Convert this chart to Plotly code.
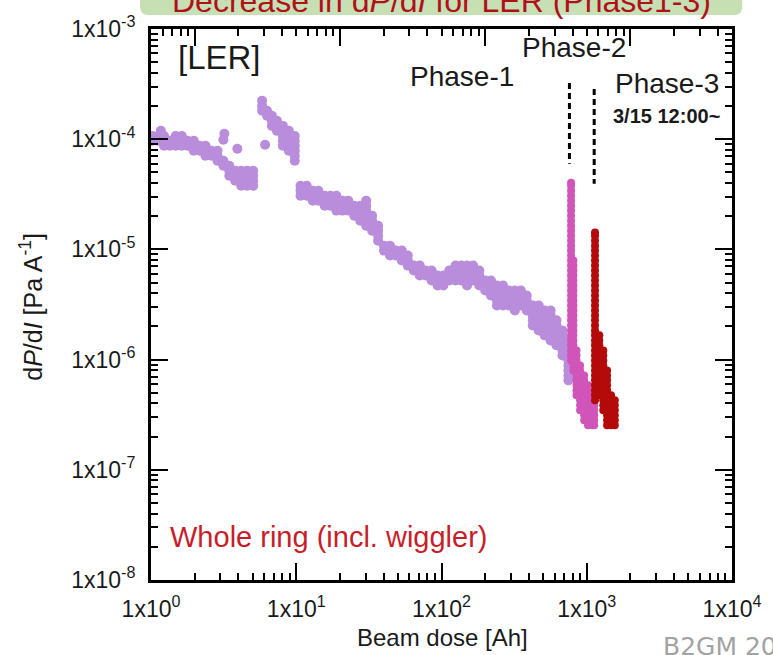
import plotly.graph_objects as go

# ---------------- data ----------------
# Phase-1: beam dose [Ah] per column, and the dP/dI values [Pa/A] measured at that dose
phase1_dose = [1.02, 1.12, 1.23, 1.35, 1.48, 1.63, 1.79, 1.97, 2.16, 2.37, 2.61, 2.87,
               3.15, 3.46, 3.80, 4.18, 4.59, 5.05,
               5.82, 6.29, 6.80, 7.36, 8.09, 8.89, 9.77,
               10.7, 11.8, 13.0, 14.2, 15.7, 17.2, 18.9, 20.8, 22.8, 25.1, 27.6, 30.3,
               33.3, 36.6, 40.2, 44.2, 48.5, 53.3, 58.6, 64.4, 70.8, 77.8, 85.5, 93.9,
               103, 113, 125, 137, 150, 165, 182, 200, 219, 241, 265, 291, 320, 352,
               386, 425, 467, 513, 564, 619, 681, 748]
phase1_dpdi = [
    [1.07e-4, 9.67e-5],
    [1.07e-4, 9.67e-5],
    [1.07e-4, 9.67e-5, 8.71e-5],
    [9.67e-5, 8.71e-5],
    [1.07e-4, 9.67e-5, 8.71e-5],
    [1.07e-4, 9.67e-5, 8.71e-5],
    [9.67e-5, 8.71e-5],
    [9.67e-5, 8.71e-5, 7.85e-5],
    [8.71e-5, 7.85e-5],
    [8.71e-5, 7.85e-5, 7.07e-5],
    [7.85e-5, 7.07e-5],
    [7.85e-5, 7.07e-5, 6.37e-5],
    [6.37e-5, 5.74e-5],
    [5.74e-5, 5.17e-5, 4.66e-5],
    [5.17e-5, 4.66e-5, 4.20e-5],
    [5.17e-5, 4.66e-5, 4.20e-5, 3.78e-5],
    [5.17e-5, 4.66e-5, 4.20e-5, 3.78e-5],
    [5.17e-5, 4.66e-5, 4.20e-5, 3.78e-5],
    [2.23e-4, 2.01e-4, 1.81e-4],
    [1.81e-4, 1.63e-4],
    [1.63e-4, 1.47e-4, 1.32e-4],
    [1.47e-4, 1.32e-4, 1.19e-4],
    [1.32e-4, 1.19e-4, 1.07e-4, 9.67e-5, 8.71e-5],
    [1.19e-4, 1.07e-4, 9.67e-5, 8.71e-5, 7.85e-5],
    [1.07e-4, 9.67e-5, 8.71e-5, 7.85e-5, 7.07e-5, 6.37e-5],
    [3.78e-5, 3.41e-5, 3.07e-5],
    [3.78e-5, 3.41e-5, 3.07e-5],
    [3.41e-5, 3.07e-5, 2.77e-5],
    [3.41e-5, 3.07e-5, 2.77e-5],
    [3.07e-5, 2.77e-5, 2.49e-5],
    [3.07e-5, 2.77e-5, 2.49e-5],
    [3.07e-5, 2.77e-5, 2.49e-5, 2.25e-5],
    [2.77e-5, 2.49e-5, 2.25e-5],
    [2.77e-5, 2.49e-5, 2.25e-5],
    [2.49e-5, 2.25e-5, 2.02e-5],
    [2.49e-5, 2.25e-5, 2.02e-5, 1.82e-5],
    [2.77e-5, 2.49e-5, 2.25e-5, 2.02e-5, 1.82e-5, 1.64e-5],
    [2.02e-5, 1.82e-5, 1.64e-5, 1.48e-5],
    [1.64e-5, 1.48e-5, 1.33e-5, 1.20e-5],
    [1.08e-5, 9.75e-6],
    [1.08e-5, 9.75e-6, 8.79e-6],
    [9.75e-6, 8.79e-6],
    [9.75e-6, 8.79e-6, 7.92e-6],
    [8.79e-6, 7.92e-6, 7.13e-6],
    [7.13e-6, 6.43e-6],
    [7.13e-6, 6.43e-6, 5.79e-6],
    [6.43e-6, 5.79e-6],
    [6.43e-6, 5.79e-6, 5.22e-6],
    [5.79e-6, 5.22e-6, 4.70e-6],
    [5.79e-6, 5.22e-6, 4.70e-6],
    [6.43e-6, 5.79e-6, 5.22e-6],
    [7.13e-6, 6.43e-6, 5.79e-6, 5.22e-6],
    [7.13e-6, 6.43e-6, 5.79e-6, 5.22e-6],
    [7.13e-6, 6.43e-6, 5.79e-6, 5.22e-6, 4.70e-6],
    [7.13e-6, 6.43e-6, 5.79e-6, 5.22e-6],
    [6.43e-6, 5.79e-6, 5.22e-6, 4.70e-6],
    [5.22e-6, 4.70e-6, 4.23e-6],
    [5.22e-6, 4.70e-6, 4.23e-6, 3.82e-6],
    [4.70e-6, 4.23e-6, 3.82e-6, 3.44e-6, 3.10e-6],
    [4.70e-6, 4.23e-6, 3.82e-6, 3.44e-6, 3.10e-6],
    [4.23e-6, 3.82e-6, 3.44e-6, 3.10e-6],
    [4.23e-6, 3.82e-6, 3.44e-6, 3.10e-6, 2.79e-6],
    [4.23e-6, 3.82e-6, 3.44e-6, 3.10e-6],
    [3.82e-6, 3.44e-6, 3.10e-6, 2.79e-6],
    [3.10e-6, 2.79e-6, 2.51e-6, 2.27e-6, 2.04e-6],
    [3.10e-6, 2.79e-6, 2.51e-6, 2.27e-6, 2.04e-6, 1.84e-6],
    [2.79e-6, 2.51e-6, 2.27e-6, 2.04e-6, 1.84e-6, 1.66e-6],
    [2.79e-6, 2.51e-6, 2.27e-6, 2.04e-6, 1.84e-6, 1.66e-6, 1.49e-6],
    [2.27e-6, 2.04e-6, 1.84e-6, 1.66e-6, 1.49e-6, 1.35e-6],
    [1.84e-6, 1.66e-6, 1.49e-6, 1.35e-6, 1.21e-6, 1.09e-6],
    [1.49e-6, 1.35e-6, 1.21e-6, 1.09e-6, 9.83e-7, 8.86e-7, 7.98e-7, 7.19e-7, 6.48e-7],
]
# scattered single readings during Phase-1
phase1_stray_dose = [1.17, 3.20, 3.15, 3.93, 6.10]
phase1_stray_dpdi = [1.19e-4, 1.12e-4, 9.88e-5, 8.18e-5, 8.90e-5]

# Phase-2
phase2_dose = [780, 809, 850, 900, 960, 1020, 1090, 1125]
phase2_dpdi = [
    [4.03e-5, 3.78e-5, 3.41e-5, 3.07e-5, 2.77e-5, 2.49e-5, 2.25e-5, 2.02e-5, 1.82e-5,
     1.64e-5, 1.48e-5, 1.33e-5, 1.20e-5, 1.08e-5, 9.75e-6, 8.79e-6, 7.92e-6, 7.13e-6,
     6.43e-6, 5.79e-6, 5.22e-6, 4.70e-6, 4.23e-6, 3.82e-6, 3.44e-6, 3.10e-6, 2.79e-6,
     2.51e-6, 2.27e-6, 2.04e-6, 1.84e-6, 1.66e-6, 1.49e-6, 1.35e-6, 1.21e-6, 1.09e-6, 9.83e-7],
    [7.92e-6, 7.13e-6, 6.43e-6, 5.79e-6, 5.22e-6, 4.70e-6, 4.23e-6, 3.82e-6, 3.44e-6,
     3.10e-6, 2.79e-6, 2.51e-6, 2.27e-6, 2.04e-6, 1.84e-6, 1.66e-6, 1.49e-6, 1.35e-6,
     1.21e-6, 1.09e-6, 9.83e-7, 8.86e-7, 7.98e-7],
    [1.21e-6, 1.09e-6, 9.83e-7, 8.86e-7, 7.98e-7, 7.19e-7, 6.48e-7, 5.84e-7, 5.26e-7, 4.74e-7],
    [8.86e-7, 7.98e-7, 7.19e-7, 6.48e-7, 5.84e-7, 5.26e-7, 4.74e-7, 4.27e-7, 3.85e-7, 3.47e-7],
    [7.19e-7, 6.48e-7, 5.84e-7, 5.26e-7, 4.74e-7, 4.27e-7, 3.85e-7, 3.47e-7, 3.12e-7, 2.81e-7],
    [5.84e-7, 5.26e-7, 4.74e-7, 4.27e-7, 3.85e-7, 3.47e-7, 3.12e-7, 2.81e-7, 2.54e-7],
    [4.74e-7, 4.27e-7, 3.85e-7, 3.47e-7, 3.12e-7, 2.81e-7, 2.54e-7],
    [4.27e-7, 3.85e-7, 3.47e-7, 3.12e-7, 2.81e-7, 2.54e-7],
]

# Phase-3
phase3_dose = [1140, 1220, 1300, 1380, 1470, 1560]
phase3_dpdi = [
    [1.42e-5, 1.33e-5, 1.20e-5, 1.08e-5, 9.75e-6, 8.79e-6, 7.92e-6, 7.13e-6, 6.43e-6,
     5.79e-6, 5.22e-6, 4.70e-6, 4.23e-6, 3.82e-6, 3.44e-6, 3.10e-6, 2.79e-6, 2.51e-6,
     2.27e-6, 2.04e-6, 1.84e-6, 1.66e-6, 1.49e-6, 1.35e-6, 1.21e-6, 1.09e-6, 9.83e-7,
     8.86e-7, 7.98e-7, 7.19e-7, 6.48e-7, 5.84e-7, 5.26e-7, 4.74e-7, 4.27e-7],
    [1.66e-6, 1.49e-6, 1.35e-6, 1.21e-6, 1.09e-6, 9.83e-7, 8.86e-7, 7.98e-7, 7.19e-7,
     6.48e-7, 5.84e-7, 5.26e-7, 4.74e-7],
    [1.21e-6, 1.09e-6, 9.83e-7, 8.86e-7, 7.98e-7, 7.19e-7, 6.48e-7, 5.84e-7, 5.26e-7,
     4.74e-7, 4.27e-7, 3.85e-7, 3.47e-7],
    [7.98e-7, 7.19e-7, 6.48e-7, 5.84e-7, 5.26e-7, 4.74e-7, 4.27e-7, 3.85e-7, 3.47e-7,
     3.12e-7, 2.81e-7, 2.54e-7],
    [4.74e-7, 4.27e-7, 3.85e-7, 3.47e-7, 3.12e-7, 2.81e-7, 2.54e-7],
    [4.27e-7, 3.85e-7, 3.47e-7, 3.12e-7, 2.81e-7, 2.54e-7],
]

# phase boundaries (dashed markers)
boundary_dose = [760, 1125]
boundary_top = [3.24e-4, 2.86e-4]
boundary_bottom = [5.99e-5, 3.94e-5]

x_tickvals = [1, 10, 100, 1000, 10000]
x_ticktext = ["1x10<sup>0</sup>", "1x10<sup>1</sup>", "1x10<sup>2</sup>",
              "1x10<sup>3</sup>", "1x10<sup>4</sup>"]
y_tickvals = [1e-8, 1e-7, 1e-6, 1e-5, 1e-4, 1e-3]
y_ticktext = ["1x10<sup>-8</sup>", "1x10<sup>-7</sup>", "1x10<sup>-6</sup>",
              "1x10<sup>-5</sup>", "1x10<sup>-4</sup>", "1x10<sup>-3</sup>"]
# top axis carries its own decade ticks (scale shifted by a factor of 2)
x2_tickvals = [1, 10, 100, 1000]

PURPLE = "#b98ddb"
PINK = "#d155b9"
DARKRED = "#b40a0a"
FONT = "Liberation Sans, Arial, sans-serif"


def flatten(doses, rows):
    xs, ys = [], []
    for d, r in zip(doses, rows):
        xs += [d] * len(r)
        ys += r
    return xs, ys


def log_minors(first_exp, last_exp, lo=None, hi=None):
    vals = [m * 10.0 ** e for e in range(first_exp, last_exp + 1) for m in range(2, 10)]
    return [v for v in vals if (lo is None or v > lo) and (hi is None or v < hi)]


fig = go.Figure()

p1x, p1y = flatten(phase1_dose, phase1_dpdi)
fig.add_trace(go.Scatter(x=p1x + phase1_stray_dose, y=p1y + phase1_stray_dpdi,
                         mode="markers", marker=dict(color=PURPLE, size=10, line_width=0),
                         name="Phase-1"))
p2x, p2y = flatten(phase2_dose, phase2_dpdi)
fig.add_trace(go.Scatter(x=p2x, y=p2y, mode="markers",
                         marker=dict(color=PINK, size=8, line_width=0), name="Phase-2"))
p3x, p3y = flatten(phase3_dose, phase3_dpdi)
fig.add_trace(go.Scatter(x=p3x, y=p3y, mode="markers",
                         marker=dict(color=DARKRED, size=8, line_width=0), name="Phase-3"))

for d, top, bot in zip(boundary_dose, boundary_top, boundary_bottom):
    fig.add_trace(go.Scatter(x=[d, d], y=[top, bot], mode="lines",
                             line=dict(color="black", width=3, dash="6px,4px"),
                             hoverinfo="skip"))

# secondary top axis (ticks only)
fig.add_trace(go.Scatter(x=[1, 1000], y=[1e-3, 1e-3], xaxis="x2", yaxis="y",
                         mode="markers", marker=dict(size=1, opacity=0),
                         hoverinfo="skip"))


def axis_style(minor_vals):
    return dict(ticks="inside", ticklen=17, tickwidth=2, tickcolor="black",
                showline=True, linewidth=3, linecolor="black",
                showgrid=False, zeroline=False,
                minor=dict(tickmode="array", tickvals=minor_vals, ticks="inside",
                           ticklen=7, tickwidth=1.5, tickcolor="black", showgrid=False))


fig.update_layout(
    width=773, height=655,
    margin=dict(l=151, r=36, t=28, b=75),
    paper_bgcolor="white", plot_bgcolor="white",
    showlegend=False,
    font=dict(family=FONT, color="#1a1a1a"),
    xaxis=dict(type="log", range=[0, 4], tickmode="array", tickvals=x_tickvals,
               ticktext=x_ticktext, tickfont=dict(size=23, color="#1a1a1a"),
               ticklabelstandoff=6, **axis_style(log_minors(0, 3))),
    xaxis2=dict(type="log", range=[-0.301, 3.699], overlaying="x", side="top",
                anchor="y", tickmode="array", tickvals=x2_tickvals,
                showticklabels=False, **axis_style(log_minors(-1, 3, 0.5, 5000))),
    yaxis=dict(type="log", range=[-8, -3], tickmode="array", tickvals=y_tickvals,
               ticktext=y_ticktext, tickfont=dict(size=23, color="#1a1a1a"),
               mirror="ticks", ticklabelstandoff=8, **axis_style(log_minors(-8, -4))),
)

# title banner
fig.add_shape(type="path", xref="paper", yref="paper",
              path="M -0.0188 1.1 L -0.0188 1.0399 Q -0.0188 1.0254 -0.0051 1.0254 "
                   "L 1.0040 1.0254 Q 1.0177 1.0254 1.0177 1.0399 L 1.0177 1.1 Z",
              fillcolor="#c6e0b4", line_width=0, layer="above")
fig.add_annotation(text="Decrease in d<i>P</i>/d<i>I</i> for LER (Phase1-3)",
                   xref="paper", yref="paper", x=0.5, y=1.0500,
                   xanchor="center", yanchor="middle", showarrow=False,
                   font=dict(size=32, color="#b0101c", family=FONT))

annots = [
    dict(text="[LER]", x=0.0427, y=0.9475, size=33, color="#1a1a1a"),
    dict(text="Phase-1", x=0.442, y=0.913, size=28, color="#1a1a1a"),
    dict(text="Phase-2", x=0.6348, y=0.9656, size=28, color="#1a1a1a"),
    dict(text="Phase-3", x=0.7952, y=0.9004, size=28, color="#1a1a1a"),
    dict(text="<b>3/15 12:00~</b>", x=0.7918, y=0.8424, size=20, color="#1a1a1a"),
    dict(text="Whole ring (incl. wiggler)", x=0.029, y=0.0779, size=29, color="#c81e2a"),
]
for a in annots:
    fig.add_annotation(text=a["text"], xref="paper", yref="paper", x=a["x"], y=a["y"],
                       xanchor="left", yanchor="middle", showarrow=False,
                       font=dict(size=a["size"], color=a["color"], family=FONT))

# axis titles
fig.add_annotation(text="d<i>P</i>/d<i>I</i> [Pa A<sup>-1</sup>]", xref="paper",
                   yref="paper", x=-0.2065, y=0.496, textangle=-90, showarrow=False,
                   xanchor="center", yanchor="middle",
                   font=dict(size=25, color="#1a1a1a", family=FONT))
fig.add_annotation(text="Beam dose [Ah]", xref="paper", yref="paper", x=0.5017,
                   y=-0.105, showarrow=False, xanchor="center", yanchor="middle",
                   font=dict(size=24, color="#1a1a1a", family=FONT))

# footer tag
fig.add_annotation(text="B2GM 2019", xref="paper", yref="paper", x=0.877, y=-0.1215,
                   xanchor="left", yanchor="middle", showarrow=False,
                   font=dict(size=25, color="#a3a3a3", family="DejaVu Sans, sans-serif"))

fig.write_html("out.html")
